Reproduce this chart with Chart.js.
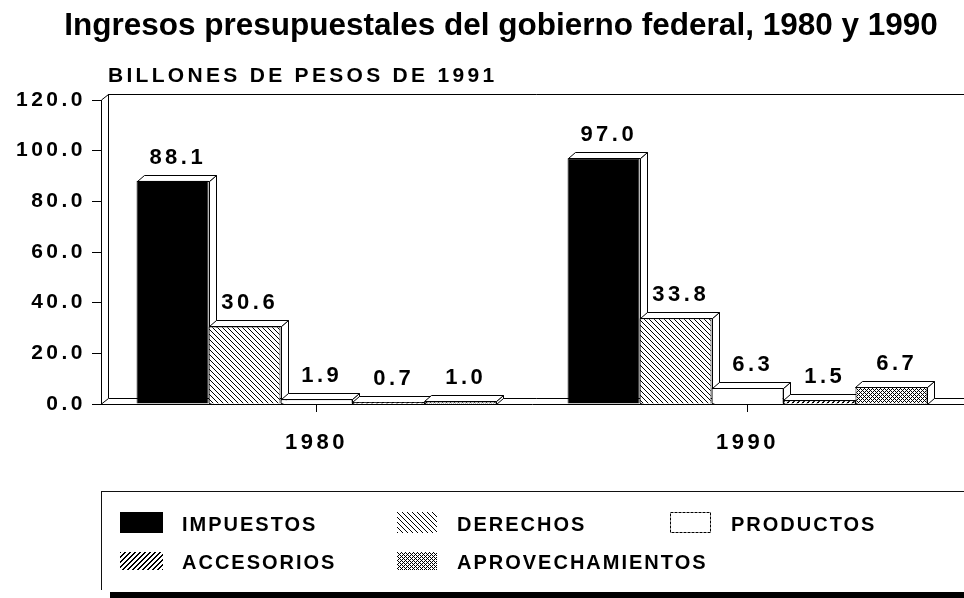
<!DOCTYPE html>
<html><head><meta charset="utf-8">
<script src="https://cdn.jsdelivr.net/npm/chart.js@4"></script>
<style>
html,body{margin:0;padding:0;background:#fff;overflow:hidden;}
#wrap{position:relative;width:964px;height:598px;overflow:hidden;font-family:"Liberation Sans",Arial,sans-serif;color:#000;background:#fff;}
#c{position:absolute;left:0;top:0;}
#title{position:absolute;left:0;width:1002px;top:8px;text-align:center;font-weight:bold;font-size:31.5px;line-height:32px;white-space:nowrap;}
#subtitle{position:absolute;left:108px;top:64px;font-weight:bold;font-size:21px;line-height:21px;letter-spacing:3.3px;white-space:nowrap;}
#legbox{position:absolute;left:101px;top:491px;width:900px;height:99px;border-top:1px solid #111;border-left:1px solid #111;box-sizing:border-box;}
#legshadow{position:absolute;left:110px;top:592px;width:900px;height:8px;background:#000;}
.lt{position:absolute;font-weight:bold;font-size:20px;line-height:20px;letter-spacing:2px;white-space:nowrap;}
.sw{position:absolute;}
</style></head>
<body><div id="wrap">
<canvas id="c" width="964" height="598"></canvas>
<div id="title">Ingresos presupuestales del gobierno federal, 1980 y 1990</div>
<div id="subtitle">BILLONES DE PESOS DE 1991</div>
<div id="legbox"></div><div id="legshadow"></div>
</div>
<script>
// ---- data ----
const categories = ['1980', '1990'];
const seriesNames = ['IMPUESTOS', 'DERECHOS', 'PRODUCTOS', 'ACCESORIOS', 'APROVECHAMIENTOS'];
const impuestos = [88.1, 97.0];
const derechos = [30.6, 33.8];
const productos = [1.9, 6.3];
const accesorios = [0.7, 1.5];
const aprovechamientos = [1.0, 6.7];
const yTickLabels = ['0.0', '20.0', '40.0', '60.0', '80.0', '100.0', '120.0'];

const seriesValues = [impuestos, derechos, productos, accesorios, aprovechamientos];
const seriesFills = ['solid', 'back', 'white', 'fwd', 'cross'];

// ---- patterns ----
function makeTile(kind) {
  const s = document.createElement('canvas');
  const n = kind === 'cross' ? 4 : 5;
  s.width = n; s.height = n;
  const c = s.getContext('2d');
  c.fillStyle = '#fff'; c.fillRect(0, 0, n, n);
  c.fillStyle = '#000';
  for (let y = 0; y < n; y++) for (let x = 0; x < n; x++) {
    let on = false;
    if (kind === 'solid') on = true;
    if (kind === 'back') on = (x === y);
    if (kind === 'fwd') on = ((x + y) % n === n - 1) || ((x + y) % n === 0);
    if (kind === 'cross') on = ((x + y) % 4 === 0) || (((x - y) % 4 + 4) % 4 === 0);
    if (on) c.fillRect(x, y, 1, 1);
  }
  return s;
}
function fillFor(kind, ctx) {
  if (kind === 'solid') return '#000';
  if (kind === 'white') return '#fff';
  return ctx.createPattern(makeTile(kind), 'repeat');
}

const canvas = document.getElementById('c');
const ctx0 = canvas.getContext('2d');

const DX = 7, DY = 6;

const depthPlugin = {
  id: 'depth',
  beforeDraw(chart) { chart.ctx.letterSpacing = '3.5px'; },
  beforeDatasetsDraw(chart) {
    const ctx = chart.ctx, a = chart.chartArea;
    ctx.save();
    ctx.strokeStyle = '#000'; ctx.lineWidth = 1;
    const L = Math.round(a.left) + 0.5, T = Math.round(a.top), B = Math.round(a.bottom), R = a.right + 5;
    ctx.beginPath();
    ctx.moveTo(L, T); ctx.lineTo(L + DX, T - DY + 0.5); ctx.lineTo(R, T - DY + 0.5);
    ctx.moveTo(L + DX, T - DY); ctx.lineTo(L + DX, B - DY);
    ctx.moveTo(L, B); ctx.lineTo(L + DX, B - DY + 0.5); ctx.lineTo(R, B - DY + 0.5);
    ctx.stroke();
    const metas = chart.data.datasets.map((d, i) => chart.getDatasetMeta(i));
    for (let j = 0; j < chart.data.labels.length; j++) {
      for (let i = 0; i < metas.length; i++) {
        const el = metas[i].data[j];
        if (!el) continue;
        const x1 = Math.round(el.x - el.width / 2) + 0.5;
        const x2 = Math.round(el.x + el.width / 2) + 0.5;
        const top = Math.round(el.y) + 0.5;
        const base = Math.round(el.base) + 0.5;
        ctx.fillStyle = '#fff';
        ctx.beginPath();
        ctx.moveTo(x2, top); ctx.lineTo(x2 + DX, top - DY); ctx.lineTo(x2 + DX, base - DY); ctx.lineTo(x2, base);
        ctx.closePath(); ctx.fill(); ctx.stroke();
        ctx.beginPath();
        ctx.moveTo(x1, top); ctx.lineTo(x1 + DX, top - DY); ctx.lineTo(x2 + DX, top - DY); ctx.lineTo(x2, top);
        ctx.closePath(); ctx.fill(); ctx.stroke();
      }
    }
    ctx.restore();
  },
  afterDatasetsDraw(chart) {
    const ctx = chart.ctx;
    ctx.save();
    ctx.font = 'bold 22px "Liberation Sans", Arial, sans-serif';
    ctx.letterSpacing = '3.5px';
    ctx.fillStyle = '#000';
    ctx.textAlign = 'center';
    ctx.textBaseline = 'alphabetic';
    chart.data.datasets.forEach((ds, i) => {
      const meta = chart.getDatasetMeta(i);
      meta.data.forEach((el, j) => {
        ctx.fillText(ds.data[j].toFixed(1), el.x + DX / 2 + 1.75, el.y - DY - 11);
      });
    });
    ctx.restore();
  }
};

const chart = new Chart(canvas, {
  type: 'bar',
  data: {
    labels: categories,
    datasets: seriesNames.map((name, i) => ({
      label: name,
      data: seriesValues[i],
      backgroundColor: fillFor(seriesFills[i], ctx0),
      borderColor: '#000',
      borderWidth: 1,
      borderSkipped: 'start',
      categoryPercentage: 0.835,
      barPercentage: 1.0
    }))
  },
  options: {
    responsive: false,
    animation: false,
    devicePixelRatio: 1,
    layout: { padding: { top: 100, left: 0, right: 1, bottom: 0 } },
    plugins: { legend: { display: false }, title: { display: false }, tooltip: { enabled: false } },
    scales: {
      x: {
        offset: true,
        afterFit(s) { s.height = 194; },
        grid: { offset: false, drawOnChartArea: false, drawTicks: true, tickLength: 8, color: '#000' },
        border: { color: '#000', width: 1 },
        ticks: { color: '#000', padding: 18, font: { family: '"Liberation Sans", Arial, sans-serif', size: 22, weight: 'bold' } }
      },
      y: {
        min: 0, max: 120,
        afterFit(s) { s.width = 101; },
        grid: { drawOnChartArea: false, drawTicks: true, tickLength: 9, color: '#000' },
        border: { color: '#000', width: 1 },
        ticks: {
          stepSize: 20, color: '#000', padding: 6,
          font: { family: '"Liberation Sans", Arial, sans-serif', size: 21, weight: 'bold' },
          callback: (v) => yTickLabels[Math.round(v / 20)]
        }
      }
    }
  },
  plugins: [depthPlugin]
});

// ---- legend (HTML) ----
const legendSlots = [
  { sx: 120, tx: 182, y: 512, w: 43, h: 21 },
  { sx: 397, tx: 457, y: 512, w: 40, h: 21 },
  { sx: 670, tx: 731, y: 512, w: 41, h: 21 },
  { sx: 120, tx: 182, y: 552, w: 43, h: 18 },
  { sx: 397, tx: 457, y: 552, w: 40, h: 18 }
];
const wrap = document.getElementById('wrap');
seriesNames.forEach((name, i) => {
  const p = legendSlots[i];
  const sw = document.createElement('canvas');
  sw.className = 'sw'; sw.width = p.w; sw.height = p.h;
  sw.style.left = p.sx + 'px'; sw.style.top = p.y + 'px';
  const c = sw.getContext('2d');
  c.fillStyle = fillFor(seriesFills[i], c);
  c.fillRect(0, 0, p.w, p.h);
  if (seriesFills[i] === 'white') {
    c.strokeStyle = '#000'; c.setLineDash([3, 1]); c.strokeRect(0.5, 0.5, p.w - 1, p.h - 1);
  }
  wrap.appendChild(sw);
  const t = document.createElement('div');
  t.className = 'lt'; t.textContent = name;
  t.style.left = p.tx + 'px'; t.style.top = (p.y + (p.h - 20) / 2 + 1) + 'px';
  wrap.appendChild(t);
});
</script>
</body></html>
